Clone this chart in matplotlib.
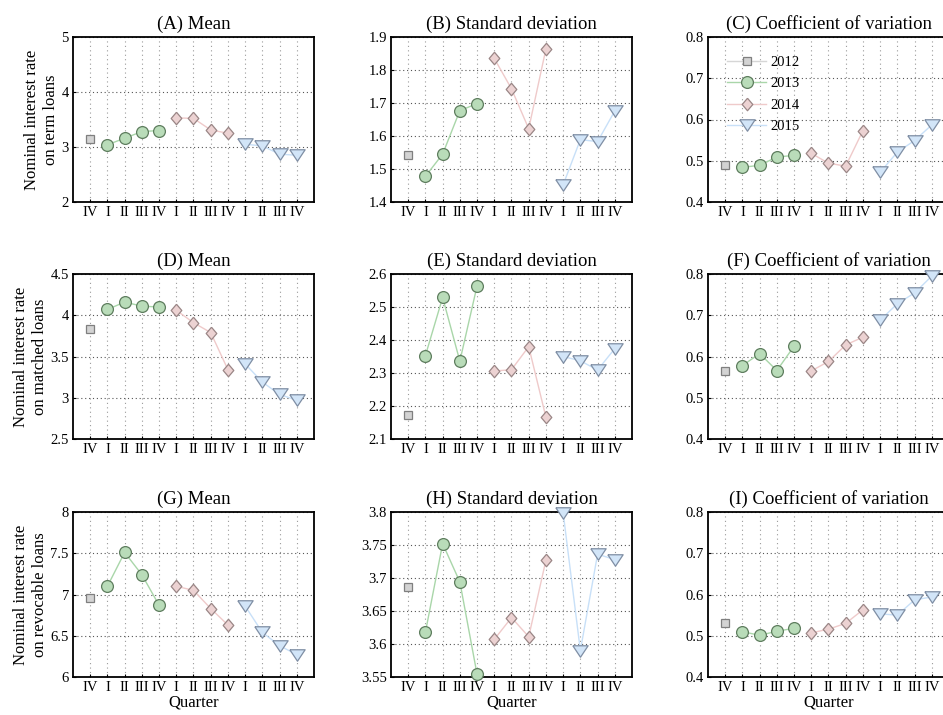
import numpy as np
import matplotlib
matplotlib.use("Agg")
import matplotlib.pyplot as plt
from matplotlib.ticker import FormatStrFormatter

plt.rcParams["font.family"] = ["Liberation Serif", "DejaVu Serif"]

quarters = ["IV", "I", "II", "III", "IV", "I", "II", "III", "IV", "I", "II", "III", "IV"]
years = ["2012", "2013", "2014", "2015"]

# values per panel: 2012 Q4, then 2013, 2014, 2015 (Q1..Q4)
term_mean = [3.15, 3.04, 3.16, 3.28, 3.30, 3.53, 3.52, 3.31, 3.25, 3.05, 3.02, 2.87, 2.85]
term_sd = [1.541, 1.478, 1.545, 1.677, 1.698, 1.835, 1.743, 1.622, 1.864, 1.452, 1.589, 1.583, 1.676]
term_cv = [0.490, 0.484, 0.489, 0.509, 0.513, 0.518, 0.494, 0.487, 0.573, 0.472, 0.521, 0.549, 0.587]

matched_mean = [3.83, 4.07, 4.16, 4.11, 4.10, 4.06, 3.91, 3.79, 3.34, 3.41, 3.19, 3.04, 2.97]
matched_sd = [2.173, 2.353, 2.529, 2.336, 2.564, 2.306, 2.310, 2.380, 2.166, 2.350, 2.337, 2.309, 2.374]
matched_cv = [0.566, 0.578, 0.607, 0.566, 0.625, 0.565, 0.588, 0.628, 0.647, 0.688, 0.728, 0.754, 0.795]

revocable_mean = [6.96, 7.10, 7.51, 7.24, 6.87, 7.10, 7.05, 6.83, 6.63, 6.86, 6.54, 6.38, 6.27]
revocable_sd = [3.686, 3.618, 3.752, 3.694, 3.554, 3.607, 3.640, 3.611, 3.727, 3.799, 3.590, 3.736, 3.728]
revocable_cv = [0.531, 0.510, 0.501, 0.511, 0.518, 0.507, 0.516, 0.530, 0.563, 0.553, 0.550, 0.587, 0.594]

panels = [
    ("(A) Mean", term_mean, (2, 5), [2, 3, 4, 5]),
    ("(B) Standard deviation", term_sd, (1.4, 1.9), [1.4, 1.5, 1.6, 1.7, 1.8, 1.9]),
    ("(C) Coefficient of variation", term_cv, (0.4, 0.8), [0.4, 0.5, 0.6, 0.7, 0.8]),
    ("(D) Mean", matched_mean, (2.5, 4.5), [2.5, 3, 3.5, 4, 4.5]),
    ("(E) Standard deviation", matched_sd, (2.1, 2.6), [2.1, 2.2, 2.3, 2.4, 2.5, 2.6]),
    ("(F) Coefficient of variation", matched_cv, (0.4, 0.8), [0.4, 0.5, 0.6, 0.7, 0.8]),
    ("(G) Mean", revocable_mean, (6, 8), [6, 6.5, 7, 7.5, 8]),
    ("(H) Standard deviation", revocable_sd, (3.55, 3.8), [3.55, 3.6, 3.65, 3.7, 3.75, 3.8]),
    ("(I) Coefficient of variation", revocable_cv, (0.4, 0.8), [0.4, 0.5, 0.6, 0.7, 0.8]),
]
row_labels = ["Nominal interest rate\non term loans",
              "Nominal interest rate\non matched loans",
              "Nominal interest rate\non revocable loans"]

# year slices into the 13 quarters
spans = [(0, 1), (1, 5), (5, 9), (9, 13)]
tri = [(-1, 0.75), (1, 0.75), (0, -0.75), (-1, 0.75)]
styles = [
    dict(marker="s", ms=5.3, mfc="#d3d3d3", mec="#7f7f7f", color="#d6d6d6"),
    dict(marker="o", ms=8.5, mfc="#b9dcb9", mec="#5e7d5e", color="#a9d6a9"),
    dict(marker=[(0, 1), (0.85, 0), (0, -1), (-0.85, 0), (0, 1)], ms=9,
         mfc="#ecd2d2", mec="#9a8686", color="#efcaca"),
    dict(marker=tri, ms=11, mfc="#d2e5f8", mec="#7f8ea4", color="#c8e0f8"),
]

fig = plt.figure(figsize=(9.43, 7.15), dpi=100)
lefts = [73 / 943, 391 / 943, 708 / 943]
bottoms = [(715 - 202) / 715, (715 - 439) / 715, (715 - 677) / 715]
w = 241 / 943
h = 165 / 715

x = np.arange(len(quarters))
for i, (title, vals, ylim, yticks) in enumerate(panels):
    r, c = divmod(i, 3)
    ax = fig.add_axes([lefts[c], bottoms[r], w, h])
    for (a, b), st, yr in zip(spans, styles, years):
        ax.plot(x[a:b], vals[a:b], "-", lw=1, mew=0.9, label=yr,
                clip_on=False, zorder=3, **st)
    ax.set_xlim(-1, 13)
    ax.set_ylim(*ylim)
    ax.set_xticks(x)
    ax.set_xticklabels(quarters)
    ax.set_yticks(yticks)
    ax.yaxis.set_major_formatter(FormatStrFormatter("%g"))
    ax.tick_params(direction="in", length=2, labelsize=10.5, pad=3)
    ax.xaxis.grid(True, linestyle=(0, (1, 3)), color="#9a9a9a", lw=0.8)
    ax.yaxis.grid(True, linestyle=(0, (1, 2.5)), color="#555555", lw=0.8)
    ax.set_axisbelow(True)
    for sp in ax.spines.values():
        sp.set_linewidth(1.3)
    ax.set_title(title, fontsize=13.5, pad=6)
    if c == 0:
        ax.set_ylabel(row_labels[r], fontsize=12, labelpad=2)
    if r == 2:
        ax.set_xlabel("Quarter", fontsize=12, labelpad=0)
    if i == 2:
        ax.legend(loc="upper left", frameon=False, fontsize=10.5,
                  handlelength=2.7, handletextpad=0.3, labelspacing=0.55,
                  borderaxespad=0.9)

fig.savefig("out.png", dpi=100)
